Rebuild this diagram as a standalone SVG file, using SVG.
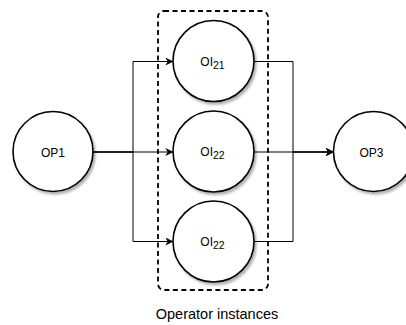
<svg xmlns="http://www.w3.org/2000/svg" width="406" height="325" viewBox="0 0 406 325">
  <defs>
    <filter id="sh" x="-20%" y="-20%" width="150%" height="150%">
      <feDropShadow dx="2" dy="2.5" stdDeviation="1" flood-color="#000" flood-opacity="0.3"/>
    </filter>
    <marker id="arr" viewBox="0 0 10 10" refX="9" refY="5" markerWidth="8" markerHeight="8" markerUnits="userSpaceOnUse" orient="auto">
      <path d="M0,0 L10,5 L0,10 L3,5 Z" fill="#000"/>
    </marker>
  </defs>
  <style>
    .node { fill: #fff; stroke: #000; stroke-width: 1.6; filter: url(#sh); }
    .lbl { font-family: "Liberation Sans", Arial, sans-serif; font-size: 12px; fill: #000; text-anchor: middle; }
    .sub { font-size: 10.5px; }
    .edge { fill: none; stroke: #000; stroke-width: 1; }
    .group { fill: none; stroke: #000; stroke-width: 1.8; stroke-dasharray: 5 3.5; }
  </style>
  <rect width="406" height="325" fill="#fff"/>

  <g id="group-box">
    <rect class="group" x="158" y="11" width="110" height="279" rx="6" ry="6"/>
  </g>

  <g id="connectors">
    <path class="edge" d="M93,152 H133 V61.5 H172.5" marker-end="url(#arr)"/>
    <path class="edge" d="M93,152 H172.5" marker-end="url(#arr)"/>
    <path class="edge" d="M93,152 H133 V241.5 H172.5" marker-end="url(#arr)"/>
    <path class="edge" d="M254,61.5 H293 V152 H333" marker-end="url(#arr)"/>
    <path class="edge" d="M254,152 H333" marker-end="url(#arr)"/>
    <path class="edge" d="M254,241.5 H293 V152 H333" marker-end="url(#arr)"/>
  </g>

  <g id="OP1">
    <circle class="node" cx="53" cy="151.5" r="40"/>
    <text class="lbl" x="53" y="156.5">OP1</text>
  </g>

  <g id="OI21">
    <circle class="node" cx="213.5" cy="61" r="40.5"/>
    <text class="lbl" x="212.5" y="66">OI<tspan class="sub" dy="3">21</tspan></text>
  </g>

  <g id="OI22a">
    <circle class="node" cx="213.5" cy="151.5" r="40.5"/>
    <text class="lbl" x="212.5" y="156">OI<tspan class="sub" dy="3">22</tspan></text>
  </g>

  <g id="OI22b">
    <circle class="node" cx="213.5" cy="241.5" r="40.5"/>
    <text class="lbl" x="212.5" y="246">OI<tspan class="sub" dy="3">22</tspan></text>
  </g>

  <g id="OP3">
    <circle class="node" cx="373.5" cy="151.5" r="40"/>
    <text class="lbl" x="371.5" y="156.5">OP3</text>
  </g>

  <g id="caption">
    <text class="lbl" x="217" y="319" style="font-size:14.5px">Operator instances</text>
  </g>
</svg>
